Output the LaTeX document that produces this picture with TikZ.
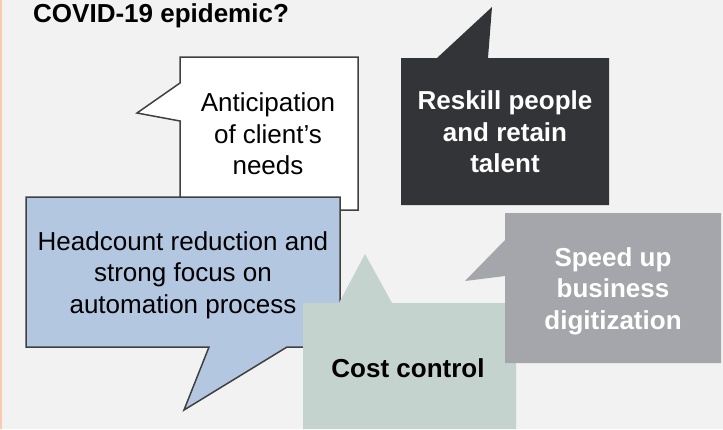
\documentclass[tikz,border=0pt]{standalone}
\usepackage{fontspec}
\setmainfont{Liberation Sans}
\definecolor{bgc}{RGB}{242,242,242}
\definecolor{peach}{RGB}{248,203,173}
\definecolor{edgec}{RGB}{64,64,64}
\definecolor{darkc}{RGB}{51,52,55}
\definecolor{bluec}{RGB}{180,199,225}
\definecolor{sagec}{RGB}{197,211,206}
\definecolor{grayc}{RGB}{165,166,171}
\begin{document}
\begin{tikzpicture}[x=1bp,y=-1bp,
  txt/.style={inner sep=0pt,align=center,font=\fontsize{26bp}{31.5bp}\selectfont},
  btxt/.style={txt,font=\fontsize{26bp}{31.5bp}\selectfont\bfseries},
  outl/.style={draw=edgec,line width=1.5bp,line join=miter}]
\fill[bgc] (0,0) rectangle (723,429);
\useasboundingbox (0,0) rectangle (723,429);
\fill[peach] (0,0) rectangle (2,429);
\node[btxt,anchor=base west] (title) at (33,22) {COVID-19 epidemic?};
% white callout
\filldraw[fill=white,outl] (180,57) -- (358,57) -- (358,210) -- (180,210) -- (180,121) -- (137,113) -- (180,83) -- cycle;
\node[txt] (antic) at (268,134) {Anticipation\\of client’s\\needs};
% dark callout
\fill[darkc] (401,58) -- (437,58) -- (492,7) -- (488,58) -- (609,58) -- (609,205) -- (401,205) -- cycle;
\node[btxt,text=white] (reskill) at (505,132) {Reskill people\\and retain\\talent};
% blue callout
\filldraw[fill=bluec,outl] (26,197) -- (340,197) -- (340,347) -- (287,347) -- (184,410) -- (209,347) -- (26,347) -- cycle;
\node[txt] (head) at (183,275) {Headcount reduction and\\strong focus on\\automation process};
% sage callout
\fill[sagec] (303,303) -- (339,303) -- (365,254) -- (392,303) -- (516,303) -- (516,429) -- (303,429) -- cycle;
\node[btxt,anchor=base] (cost) at (408,377) {Cost control};
% gray callout
\fill[grayc] (505,213) -- (721,213) -- (721,363) -- (505,363) -- (505,276) -- (465,281) -- (505,240) -- cycle;
\node[btxt,text=white] (speed) at (613,291) {Speed up\\business\\digitization};
\end{tikzpicture}
\end{document}
